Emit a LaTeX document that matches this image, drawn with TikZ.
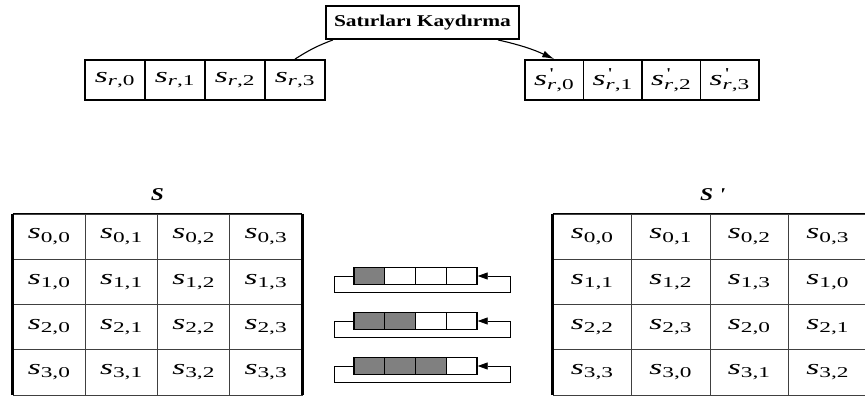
\documentclass[tikz,border=0pt]{standalone}
\usepackage{fontspec}
\setmainfont{Liberation Serif}
\newfontfamily\widefont[FakeStretch=1.3]{Liberation Serif}
\newfontfamily\cellfont[FakeStretch=1.55]{Liberation Serif}
\usetikzlibrary{arrows.meta,positioning}

% state entries
\newcommand\sv[2]{\textit{s}\textsubscript{#1,#2}}
\newcommand\svp[2]{\textit{s}\rlap{\textsuperscript{\,\textquotesingle}}\textsubscript{#1,#2}}

\begin{document}
\begin{tikzpicture}[
  x=1pt, y=-1pt,
  entry/.style={font=\cellfont\fontsize{21.5}{24}\selectfont},
  headbox/.style={draw, line width=1.8pt, minimum width=193pt, minimum height=33pt,
               inner sep=0pt, font=\widefont\fontsize{16.5}{19}\selectfont\bfseries},
  rowcell/.style={draw, line width=1.8pt, minimum height=40pt, inner sep=0pt, entry},
  gridcell/.style={draw=black!75, line width=0.7pt, minimum height=45.25pt, inner sep=0pt, entry},
  regcell/.style={draw, line width=1.4pt, minimum width=30.75pt, minimum height=17pt, inner sep=0pt},
  rimline/.style={line width=2.6pt},
  statelbl/.style={font=\widefont\fontsize{18}{20}\selectfont\bfseries\itshape},
  flow/.style={-{Latex[length=12pt,width=7pt]}, line width=1.1pt},
  loopline/.style={-{Triangle[length=10pt,width=7pt]}, line width=0.8pt}
]
\useasboundingbox (0,0) rectangle (865,396);

% one row before and after the shift
\node[headbox] (head) at (422.5,22.5) {Satırları Kaydırma};
\foreach \j in {0,...,3}
  \node[rowcell, minimum width=60pt] (l\j) at (115+60*\j,80) {\sv{\textit{r}}{\j}};
\foreach \j in {0,...,3}
  \node[rowcell, minimum width=58.5pt] (p\j) at (554.25+58.5*\j,80) {\svp{\textit{r}}{\j}};
\draw[line width=1.1pt] (head.191) to[bend right=6] (l3.north);
\draw[flow] (head.347) to[bend left=6] (p0.north);

% state S
\node[statelbl] (lblS) at (157.5,195) {S};
\foreach \i in {0,...,3}
  \foreach \j in {0,...,3}
    \node[gridcell, minimum width=72.25pt] (a\i\j) at (49.1+72.25*\j,236.6+45.25*\i) {\sv{\i}{\j}};
\draw[rimline] (a00.north west) -- (a30.south west);
\draw[rimline] (a03.north east) -- (a33.south east);
\draw[line width=1.5pt] (a00.north west) -- (a03.north east);

% state S' (row i rotated left by i)
\node[statelbl] (lblSp) at (712,195) {S \textquotesingle};
\foreach \i in {0,...,3}
  \foreach \j in {0,...,3} {
    \pgfmathtruncatemacro\c{mod(\i+\j,4)}
    \node[gridcell, minimum width=78.5pt] (b\i\j) at (592.25+78.5*\j,236.6+45.25*\i) {\sv{\i}{\c}};
  }
\draw[rimline] (b00.north west) -- (b30.south west);
\draw[line width=1.5pt] (b00.north west) -- (b03.north east);

% cyclic shift registers
\foreach \k in {1,2,3} {
  \foreach \j in {0,...,3} {
    \ifnum\j<\k \def\fillc{black!50}\else\def\fillc{white}\fi
    \node[regcell, fill=\fillc] (r\k\j) at (369.4+30.75*\j,231+45*\k) {};
  }
  \draw[loopline] (r\k0.west) -- ++(-19,0) -- ++(0,16) -- ++(176,0) -- ++(0,-16) -- (r\k3.east);
}
\end{tikzpicture}
\end{document}
